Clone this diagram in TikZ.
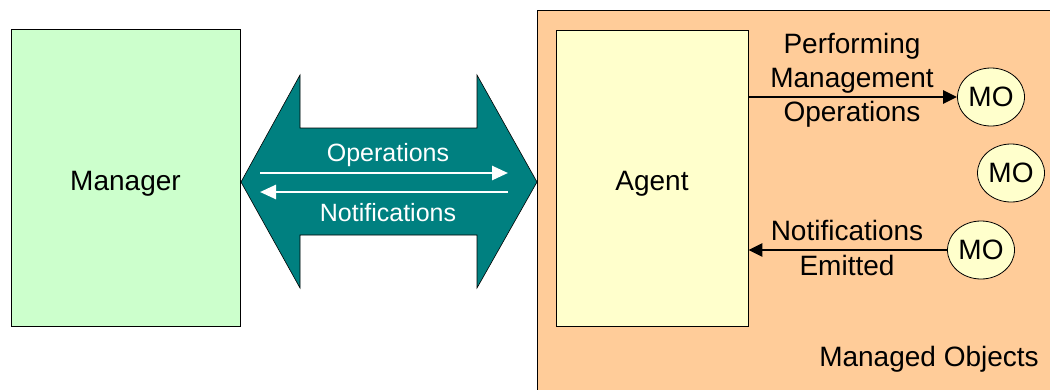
\documentclass[tikz,border=0pt]{standalone}
\usepackage{fontspec}
\setmainfont{Liberation Sans}
\usetikzlibrary{arrows.meta,shapes.geometric}
\definecolor{mgrgreen}{HTML}{CCFFCC}
\definecolor{moorange}{HTML}{FFCC99}
\definecolor{agentyellow}{HTML}{FFFFCC}
\definecolor{teal}{HTML}{008080}
\tikzset{
  box/.style={draw=black, line width=0.8pt, inner sep=0pt},
  lbl/.style={font=\fontsize{28}{33}\selectfont, text=black, inner sep=0pt},
  mo/.style={draw=black, line width=0.8pt, ellipse, fill=agentyellow, minimum width=67pt, minimum height=58pt, inner sep=0pt, font=\fontsize{28}{33}\selectfont},
  blk/.style={line width=2.6pt, -{Triangle[length=14pt,width=13pt]}},
  wht/.style={draw=white, line width=2.6pt, -{Triangle[length=16pt,width=14pt]}},
  wlbl/.style={font=\fontsize{25}{30}\selectfont, text=white, inner sep=0pt},
}
\begin{document}
\begin{tikzpicture}[x=1pt,y=-1pt]
\useasboundingbox (0,0) rectangle (1050,389);
% Managed objects area
\draw[box, fill=moorange] (537,10) rectangle (1060,400);
\node[lbl, anchor=base] (mobj) at (929,366) {Managed Objects};
% Manager
\node[box, fill=mgrgreen, minimum width=229pt, minimum height=297pt] (mgr) at (125.5,177.5) {};
\node[lbl, anchor=base] at (mgr.center |- 0,190) {Manager};
% Agent
\node[box, fill=agentyellow, minimum width=192pt, minimum height=296pt] (agent) at (652,178) {};
\node[lbl, anchor=base] at (agent.center |- 0,190) {Agent};
% big double arrow
\draw[black, line width=0.6pt, fill=teal]
  (241,182) -- (300,75) -- (300,128) -- (477,128) -- (477,75) -- (537,182)
  -- (477,288) -- (477,235) -- (300,235) -- (300,288) -- cycle;
\coordinate (opl) at (260,173);
\coordinate (opr) at (508,173);
\coordinate (nol) at (260,192);
\coordinate (nor) at (508,192);
\draw[wht] (opl) -- (opr);
\draw[wht] (nor) -- (nol);
\node[wlbl, anchor=base] (optxt) at (388,161) {Operations};
\node[wlbl, anchor=base] (notxt) at (388,221) {Notifications};
% MOs
\node[mo] (mo1) at (991,97) {MO};
\node[mo] (mo2) at (1011,173) {MO};
\node[mo] (mo3) at (981,250) {MO};
\draw[blk] (mo1 -| agent.east) -- (mo1.west);
\draw[blk] (mo3.west) -- (mo3 -| agent.east);
% labels
\node[lbl, anchor=base] at (852,53) {Performing};
\node[lbl, anchor=base] at (852,87) {Management};
\node[lbl, anchor=base] at (852,121) {Operations};
\node[lbl, anchor=base] at (847,240) {Notifications};
\node[lbl, anchor=base] at (847,275) {Emitted};
\end{tikzpicture}
\end{document}
